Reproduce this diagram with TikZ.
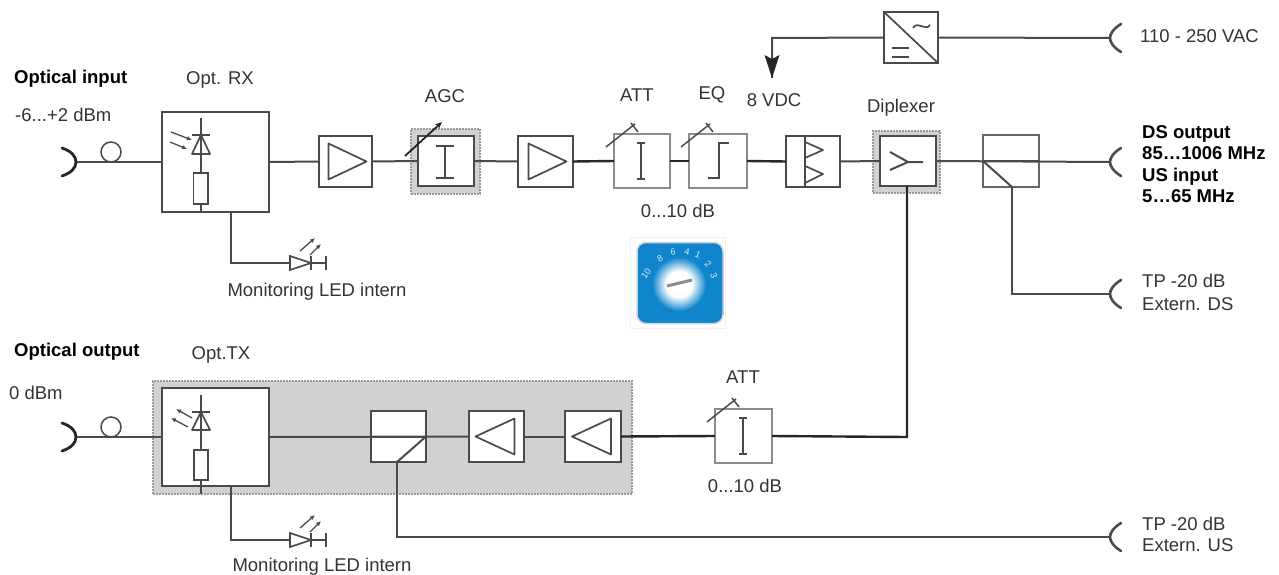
\documentclass[tikz,border=0pt]{standalone}
\usepackage{fontspec}
\setmainfont{Liberation Sans}
\usetikzlibrary{arrows.meta,calc}
\definecolor{ln}{HTML}{4A4A4A}
\definecolor{tx}{HTML}{333333}
\definecolor{gbg}{HTML}{D0D1D3}
\definecolor{gbd}{HTML}{9A9A9A}
\definecolor{dialblue}{HTML}{0F86CC}
\pgfdeclareradialshading{glow}{\pgfpoint{0bp}{0bp}}{color(0bp)=(white); color(12bp)=(white); color(25bp)=(dialblue); color(50bp)=(dialblue)}
\tikzset{
  x=1pt,y=-1pt,
  wire/.style={draw=ln,line width=2pt},
  hwire/.style={draw=black!85,line width=2.4pt},
  glyph/.style={draw=ln,line width=1.7pt},
  blockbox/.style={draw=ln,fill=white,line width=2pt,inner sep=0pt,outer sep=0pt},
  lightbox/.style={draw=black!45,fill=white,line width=1.4pt,inner sep=0pt,outer sep=0pt},
  shadebox/.style={draw=gbd,fill=gbg,densely dotted,line width=2pt,inner sep=0pt,outer sep=0pt},
  lbl/.style={inner sep=0pt,text=tx,font=\fontsize{18.5}{21}\selectfont},
  bold/.style={inner sep=0pt,text=black,font=\fontsize{18.5}{21.4}\selectfont\bfseries,align=left},
  digit/.style={inner sep=0pt,text=white!85!dialblue,font=\fontsize{9}{9}\selectfont},
  jackr/.pic={\draw[draw=ln,line width=2.6pt,line cap=round] (11,-14) .. controls (3,-9) and (0,-4) .. (0,0) .. controls (0,4) and (3,9) .. (11,14);},
  jackl/.pic={\draw[draw=black!85,line width=2.8pt,line cap=round] (-14,-14) .. controls (-5,-11) and (0,-6) .. (0,0) .. controls (0,6) and (-5,11) .. (-14,14);},
  ampr/.pic={\draw[glyph,line join=round] (-17,-18) -- (21,0) -- (-17,18) -- cycle;},
  ampl/.pic={\draw[glyph,line join=round] (18,-18) -- (-21,0) -- (18,18) -- cycle;},
  knob/.pic={\draw[draw=ln,line width=1.5pt] (-8,-1) -- (21,-24) (17,-25) -- (24,-16);},
  ibeam/.pic={\draw[draw=ln,line width=1.6pt] (0,-18) -- (0,18) (-4,-18) -- (4,-18) (-4,18) -- (4,18);},
  loopc/.pic={\draw[draw=ln,line width=1.5pt] (0,0) circle[radius=10];},
  led/.pic={
    \draw[glyph] (0,-7) -- (0,7) -- (21,0) -- cycle;
    \draw[glyph] (21,-7) -- (21,7) (21,0) -- (36,0) (36,-7) -- (36,7);
    \draw[draw=ln,line width=1.3pt,-{Latex[length=5pt,width=4.5pt]}] (10,-12) -- (25,-25);
    \draw[draw=ln,line width=1.3pt,-{Latex[length=5pt,width=4.5pt]}] (20,-8) -- (31,-19);
  },
}
\begin{document}
\begin{tikzpicture}
\useasboundingbox (0,0) rectangle (1279,575);
% shaded groups
\node[shadebox,minimum width=479,minimum height=113] (txgroup) at (392.5,437.5) {};
\node[shadebox,minimum width=69,minimum height=65] (agcbg) at (445.5,161.5) {};
\node[shadebox,minimum width=67,minimum height=62] (dipbg) at (906.5,162) {};
% jacks and free ends
\coordinate (jin) at (76,162);
\coordinate (jout) at (76,437);
\coordinate (jac) at (1110,38);
\coordinate (jds) at (1110,162);
\coordinate (jtpd) at (1110,294);
\coordinate (jtpu) at (1110,537);
\coordinate (dcend) at (772,78);
% blocks
\node[blockbox,minimum width=107,minimum height=100] (rx) at (215.5,162) {};
\node[blockbox,minimum width=107,minimum height=98] (tx) at (215.5,437) {};
\node[blockbox,minimum width=53,minimum height=51] (amp1) at (345.5,161.5) {};
\node[blockbox,minimum width=56,minimum height=50] (agc) at (446,161) {};
\node[blockbox,minimum width=55,minimum height=51] (amp2) at (545.5,161.5) {};
\node[lightbox,minimum width=56,minimum height=54] (att1) at (642,161) {};
\node[lightbox,minimum width=58,minimum height=54] (eq) at (718,161) {};
\node[blockbox,minimum width=54,minimum height=51] (dual) at (813,161.5) {};
\node[blockbox,minimum width=56,minimum height=50] (dip) at (908,161) {};
\node[blockbox,draw=black!60,line width=1.7pt,minimum width=56,minimum height=52] (spd) at (1011,161) {};
\node[blockbox,minimum width=54,minimum height=51] (psu) at (911,37.5) {};
\node[blockbox,minimum width=55,minimum height=51] (spu) at (398.5,436.5) {};
\node[blockbox,minimum width=55,minimum height=51] (ampa) at (496.5,436.5) {};
\node[blockbox,minimum width=56,minimum height=51] (ampb) at (593,436.5) {};
\node[lightbox,minimum width=57,minimum height=54] (att2) at (743.5,436) {};
% LED positions
\coordinate (ledrx) at (290,263);
\coordinate (ledtx) at (290,540);
\coordinate (rxt) at (231,212);
\coordinate (txt) at (231,486);
\coordinate (spdj) at (1012,187);
\coordinate (spuj) at (397,462);
\coordinate (dipj) at (907,186);
% connectors
\draw[wire] (jin) -- (rx.west);
\draw[wire] (rx.east) -- (amp1.west);
\draw[wire] (amp1.east) -- (agc.west);
\draw[wire] (agc.east) -- (amp2.west);
\draw[hwire] (amp2.east) -- (att1.west);
\draw[hwire] (att1.east) -- (eq.west);
\draw[hwire] (eq.east) -- (dual.west);
\draw[wire] (dual.east) -- (dip.west);
\draw[wire] (dip.east) -- (jds);
\draw[wire] (psu.east) -- (jac);
\draw[wire] (psu.west) -- (772,38) -- (dcend);
\fill[black!85] (dcend) -- (764.5,55) -- (772,59) -- (779.5,55) -- cycle;
\draw[wire] (rxt) -- (231,263) -- (ledrx);
\draw[wire] (spdj) -- (1012,294) -- (jtpd);
\draw[wire] (jout) -- (tx.west);
\draw[wire] (tx.east) -- (ampa.west);
\draw[wire] (ampa.east) -- (ampb.west);
\draw[hwire] (ampb.east) -- (att2.west);
\draw[hwire] (att2.east) -- (907,437) -- (dipj);
\draw[wire] (txt) -- (231,540) -- (ledtx);
\draw[wire] (spuj) -- (397,537) -- (jtpu);
% jacks and loops
\pic at (jin) {jackl};
\pic at (jout) {jackl};
\pic at (jac) {jackr};
\pic at (jds) {jackr};
\pic at (jtpd) {jackr};
\pic at (jtpu) {jackr};
\pic at (111,152) {loopc};
\pic at (111,427) {loopc};
% RX inner
\draw[glyph] (201,118) -- (201,173) (192,135) -- (210,135);
\draw[glyph,line join=round] (201,135) -- (192,154) -- (210,154) -- cycle;
\draw[glyph] (193.5,173) rectangle (208,204);
\draw[glyph] (201,204) -- (201,212);
\draw[draw=ln,line width=1.3pt,-{Latex[length=5pt,width=4.5pt]}] (171,132) -- (192,140);
\draw[draw=ln,line width=1.3pt,-{Latex[length=5pt,width=4.5pt]}] (170,142) -- (187,149);
% TX inner
\draw[glyph] (201,395) -- (201,450) (192,412) -- (210,412);
\draw[glyph,line join=round] (201,412) -- (192,430) -- (210,430) -- cycle;
\draw[glyph] (194,450) rectangle (208,480);
\draw[glyph] (201,480) -- (201,494);
\draw[draw=ln,line width=1.3pt,-{Latex[length=5pt,width=4.5pt]}] (192,418) -- (176,409);
\draw[draw=ln,line width=1.3pt,-{Latex[length=5pt,width=4.5pt]}] (188,427) -- (171,418);
\pic at (ledrx) {led};
\pic at (ledtx) {led};
% amplifiers
\pic at (amp1.center) {ampr};
\pic at (amp2.center) {ampr};
\pic at (ampa.center) {ampl};
\pic at (ampb.center) {ampl};
% AGC
\draw[draw=ln,line width=1.7pt] (436,146) -- (454,146) (445,146) -- (445,178) (436,178) -- (454,178);
\draw[draw=black!85,line width=1.8pt,-{Stealth[length=7pt,width=6pt]}] (405,156) -- (442,122);
% ATT 1, EQ, ATT 2
\pic at (641,161) {ibeam};
\pic at (614,148) {knob};
\pic at (689,148) {knob};
\draw[glyph] (708,178) -- (719,178) -- (719,143) -- (729,143);
\pic at (743,436) {ibeam};
\pic at (715,423) {knob};
% dual amp
\draw[glyph] (805,136) -- (805,187);
\draw[glyph,line join=round] (805,142) -- (823,150) -- (805,158) (805,166) -- (823,174) -- (805,183);
% diplexer
\draw[glyph,line width=2pt] (890,152) -- (908,162) -- (890,170) (908,162) -- (923,162);
% splitters
\draw[wire] (spd.west) -- (spd.east);
\draw[wire] (spd.west) -- (spdj);
\draw[wire] (spu.west) -- (spu.east);
\draw[wire] (spu.east) -- (spuj);
% power supply
\draw[glyph] (psu.north west) -- (psu.south east);
\draw[glyph] (913,28) .. controls (918,20) and (925,32) .. (930,25);
\draw[glyph] (892,48) -- (909,48) (892,57) -- (909,57);
% rotary switch
\node[draw=black!6,fill=white,minimum width=95,minimum height=91,inner sep=0pt] (dialbg) at (677.5,282.5) {};
\node[draw=black!18,fill=dialblue,line width=1.5pt,rounded corners=9pt,minimum width=86,minimum height=81,inner sep=0pt] (dial) at (680,283) {};
\shade[shading=glow] (679,284) circle[radius=27];
\draw[draw=black!45,line width=3pt] (667,286) -- (692,280);
\node[digit,rotate=55] (d1) at (646,274) {10};
\node[digit,rotate=30] (d2) at (660,259) {8};
\node[digit,rotate=10] (d3) at (673,252) {6};
\node[digit,rotate=-10] (d4) at (687,252) {4};
\node[digit,rotate=-25] (d5) at (698,255) {1};
\node[digit,rotate=-45] (d6) at (708,264) {2};
\node[digit,rotate=-70] (d7) at (714,276) {3};
% labels
\node[bold,anchor=west] (t1) at (14,79) {Optical input};
\node[lbl,anchor=west] (t2) at (15,115) {-6...+2 dBm};
\node[lbl] (t3) at (220,80) {Opt. RX};
\node[lbl] (t4) at (445,96) {AGC};
\node[lbl] (t5) at (637,95) {ATT};
\node[lbl] (t6) at (712,95) {EQ};
\node[lbl] (t7) at (774,100) {8 VDC};
\node[lbl] (t8) at (901,108) {Diplexer};
\node[lbl] (t9) at (678,211) {0...10 dB};
\node[lbl] (t10) at (317,292) {Monitoring LED intern};
\node[bold,anchor=west] (t11) at (14,352) {Optical output};
\node[lbl] (t12) at (221,355) {Opt.TX};
\node[lbl,anchor=west] (t13) at (9,393) {0 dBm};
\node[lbl] (t14) at (743,377) {ATT};
\node[lbl] (t15) at (745,486) {0...10 dB};
\node[lbl] (t16) at (322,567) {Monitoring LED intern};
\node[lbl,anchor=west] (t17) at (1140,36) {110 - 250 VAC};
\node[bold,anchor=west] (t18) at (1142,164) {DS output\\85…1006 MHz\\US input\\5…65 MHz};
\node[lbl,anchor=west,align=left,font=\fontsize{18.5}{23}\selectfont] (t19) at (1142,292) {TP -20 dB\\Extern. DS};
\node[lbl,anchor=west,align=left,font=\fontsize{18.5}{21}\selectfont] (t20) at (1142,534) {TP -20 dB\\Extern. US};
\end{tikzpicture}
\end{document}
